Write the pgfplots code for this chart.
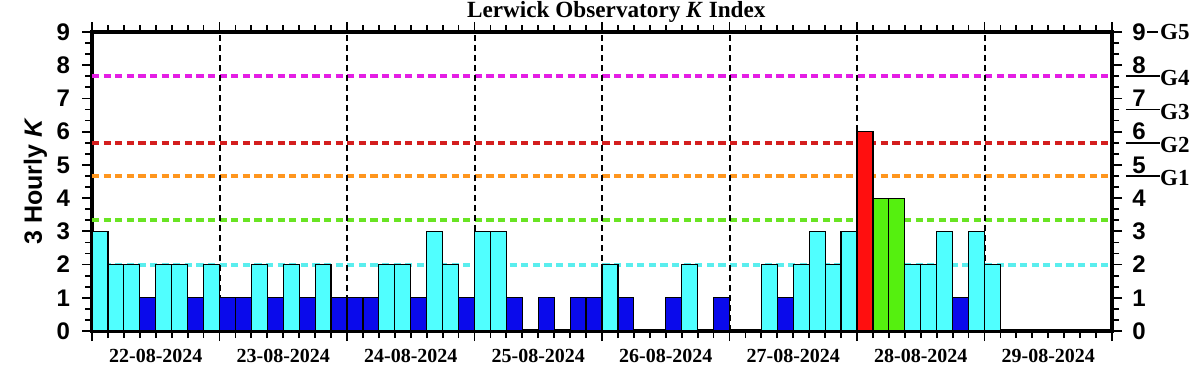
\documentclass[border=0pt]{standalone}
\usepackage{fontspec}
\setmainfont{Liberation Serif}
\newfontfamily\hv{Liberation Sans}
\usepackage{pgfplots}
\pgfplotsset{compat=1.18}

\definecolor{kcyan}{RGB}{80,255,255}
\definecolor{kblue}{RGB}{10,10,235}
\definecolor{kgreen}{RGB}{85,240,15}
\definecolor{kred}{RGB}{255,15,15}
\definecolor{lcyan}{RGB}{90,238,238}
\definecolor{lgreen}{RGB}{105,228,35}
\definecolor{lorange}{RGB}{255,150,30}
\definecolor{lred}{RGB}{212,30,30}
\definecolor{lmag}{RGB}{228,30,228}

\pgfplotstableread{
x k
0.5 3
1.5 2
2.5 2
4.5 2
5.5 2
7.5 2
10.5 2
12.5 2
14.5 2
18.5 2
19.5 2
21.5 3
22.5 2
24.5 3
25.5 3
32.5 2
37.5 2
42.5 2
44.5 2
45.5 3
46.5 2
47.5 3
51.5 2
52.5 2
53.5 3
55.5 3
56.5 2
}\cyanbars
\pgfplotstableread{
x k
3.5 1
6.5 1
8.5 1
9.5 1
11.5 1
13.5 1
15.5 1
16.5 1
17.5 1
20.5 1
23.5 1
26.5 1
28.5 1
30.5 1
31.5 1
33.5 1
36.5 1
39.5 1
43.5 1
54.5 1
}\bluebars
\pgfplotstableread{
x k
49.5 4
50.5 4
}\greenbars
\pgfplotstableread{
x k
48.5 6
}\redbars

\tikzset{rlab/.style={anchor=west, inner sep=0pt, xshift=10pt, font=\hv\bfseries\fontsize{12}{12}\selectfont},
         glab/.style={anchor=west, inner sep=0pt, font=\bfseries\fontsize{11.5}{11.5}\selectfont},
         dlab/.style={anchor=base, yshift=-15.5pt, font=\bfseries\fontsize{10}{10}\selectfont}}

\begin{document}
\begin{tikzpicture}
\begin{axis}[
  name=ax,
  scale only axis,
  width=510pt, height=149.5pt,
  xmin=0, xmax=64, ymin=0, ymax=9,
  clip=false,
  axis line style={line width=1.8pt},
  tick style={line width=0.9pt, black},
  tick align=outside,
  tick pos=both,
  major tick length=5pt,
  minor tick length=3.5pt,
  xtick={0,8,...,64},
  minor x tick num=7,
  xticklabels={},
  ytick={0,1,...,9},
  minor y tick num=2,
  yticklabels={0,1,2,3,4,5,6,7,8,9},
  yticklabel style={font=\hv\bfseries\fontsize{12}{12}\selectfont, xshift=-2.5pt},
  ylabel={\hv\bfseries\fontsize{12.5}{12.5}\selectfont 3 Hourly \textit{K}},
  every axis y label/.style={at={(rel axis cs:0,0.5)}, xshift=-25pt, rotate=90, anchor=base},
]
% Reference dotted level lines
\addplot[lcyan, line width=2pt, dash pattern=on 3.6pt off 2.2pt] coordinates {(0,2) (64,2)};
\addplot[lgreen, line width=2pt, dash pattern=on 3.6pt off 2.2pt] coordinates {(0,3.333) (64,3.333)};
\addplot[lorange, line width=2pt, dash pattern=on 3.6pt off 2.2pt] coordinates {(0,4.667) (64,4.667)};
\addplot[lred, line width=2pt, dash pattern=on 3.6pt off 2.2pt] coordinates {(0,5.667) (64,5.667)};
\addplot[lmag, line width=2pt, dash pattern=on 3.6pt off 2.2pt] coordinates {(0,7.667) (64,7.667)};
% Day separators
\addplot[black, line width=1pt, dash pattern=on 3pt off 2pt] coordinates {(8,0) (8,9)};
\addplot[black, line width=1pt, dash pattern=on 3pt off 2pt] coordinates {(16,0) (16,9)};
\addplot[black, line width=1pt, dash pattern=on 3pt off 2pt] coordinates {(24,0) (24,9)};
\addplot[black, line width=1pt, dash pattern=on 3pt off 2pt] coordinates {(32,0) (32,9)};
\addplot[black, line width=1pt, dash pattern=on 3pt off 2pt] coordinates {(40,0) (40,9)};
\addplot[black, line width=1pt, dash pattern=on 3pt off 2pt] coordinates {(48,0) (48,9)};
\addplot[black, line width=1pt, dash pattern=on 3pt off 2pt] coordinates {(56,0) (56,9)};
% Bars
\addplot[ybar, bar width=1, bar shift=0pt, fill=kcyan, draw=black, line width=0.6pt] table[x=x,y=k] {\cyanbars};
\addplot[ybar, bar width=1, bar shift=0pt, fill=kblue, draw=black, line width=0.6pt] table[x=x,y=k] {\bluebars};
\addplot[ybar, bar width=1, bar shift=0pt, fill=kgreen, draw=black, line width=0.6pt] table[x=x,y=k] {\greenbars};
\addplot[ybar, bar width=1, bar shift=0pt, fill=kred, draw=black, line width=0.6pt] table[x=x,y=k] {\redbars};
% Title
\node[anchor=base, font=\bfseries\fontsize{11.6}{11.6}\selectfont] at (axis cs:32.9,9) [yshift=7.5pt] {Lerwick Observatory \textit{K} Index};
% Date labels
\node[dlab] at (axis cs:4,0) {22-08-2024};
\node[dlab] at (axis cs:12,0) {23-08-2024};
\node[dlab] at (axis cs:20,0) {24-08-2024};
\node[dlab] at (axis cs:28,0) {25-08-2024};
\node[dlab] at (axis cs:36,0) {26-08-2024};
\node[dlab] at (axis cs:44,0) {27-08-2024};
\node[dlab] at (axis cs:52,0) {28-08-2024};
\node[dlab] at (axis cs:60,0) {29-08-2024};
% Right-hand K labels
\node[rlab] at (axis cs:64,0) {0};
\node[rlab] at (axis cs:64,1) {1};
\node[rlab] at (axis cs:64,2) {2};
\node[rlab] at (axis cs:64,3) {3};
\node[rlab] at (axis cs:64,4) {4};
\node[rlab] at (axis cs:64,5) {5};
\node[rlab] at (axis cs:64,6) {6};
\node[rlab] at (axis cs:64,7) {7};
\node[rlab] at (axis cs:64,8) {8};
\node[rlab] at (axis cs:64,9) {9};
% G-scale markers
\draw[line width=0.8pt] (axis cs:66.2,9) -- (axis cs:66.9,9);
\node[glab] at (axis cs:67.0,9) {G5};
\draw[line width=0.8pt] (axis cs:64.87,7.667) -- (axis cs:67.0,7.667);
\node[glab, yshift=-1pt] at (axis cs:67.0,7.667) {G4};
\draw[line width=0.8pt] (axis cs:64.87,6.667) -- (axis cs:67.0,6.667);
\node[glab, yshift=-1pt] at (axis cs:67.0,6.667) {G3};
\draw[line width=0.8pt] (axis cs:64.87,5.667) -- (axis cs:67.0,5.667);
\node[glab, yshift=-1pt] at (axis cs:67.0,5.667) {G2};
\draw[line width=0.8pt] (axis cs:64.87,4.667) -- (axis cs:67.0,4.667);
\node[glab, yshift=-1pt] at (axis cs:67.0,4.667) {G1};
\end{axis}
\pgfresetboundingbox
\path[use as bounding box] ([shift={(-46pt,-22pt)}]ax.south west) rectangle ([shift={(45pt,16pt)}]ax.north east);
\end{tikzpicture}
\end{document}
